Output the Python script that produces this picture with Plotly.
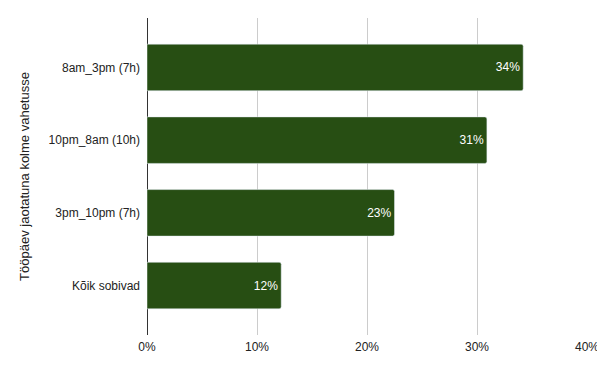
import plotly.graph_objects as go

categories = ["8am_3pm (7h)", "10pm_8am (10h)", "3pm_10pm (7h)", "Kõik sobivad"]
values = [0.342, 0.309, 0.225, 0.122]
labels = ["34%", "31%", "23%", "12%"]
tick_vals = [0, 0.1, 0.2, 0.3, 0.4]
tick_text = ["0%", "10%", "20%", "30%", "40%"]

fig = go.Figure(go.Bar(
    x=values, y=categories, orientation="h",
    marker=dict(color="#274e13", cornerradius=2),
    text=labels, textposition="inside", insidetextanchor="end",
    textfont=dict(color="white", size=12, family="Liberation Sans, Arial"),
    width=0.64,
))
# page body has an 8px margin, so the figure is sized/offset to compensate
fig.update_layout(
    width=597, height=364,
    margin=dict(l=139, r=18, t=10, b=37, autoexpand=False),
    plot_bgcolor="white", paper_bgcolor="white",
    font=dict(family="Liberation Sans, Arial", size=12, color="#222"),
    showlegend=False,
)
fig.update_xaxes(range=[0, 0.4], tickvals=tick_vals, ticktext=tick_text,
                 showgrid=True, gridcolor="#cccccc", gridwidth=1,
                 zeroline=True, zerolinecolor="#333333", zerolinewidth=1,
                 showline=False, ticks="", fixedrange=True, automargin=False,
                 ticklabelstandoff=3)
fig.update_yaxes(categoryorder="array", categoryarray=categories[::-1],
                 range=[-0.68, 3.68], showgrid=False, ticks="",
                 ticklabelstandoff=6, automargin=False,
                 title=dict(text="Tööpäev jaotatuna kolme vahetusse", standoff=16,
                            font=dict(size=13)))
fig.write_html("out.html")
